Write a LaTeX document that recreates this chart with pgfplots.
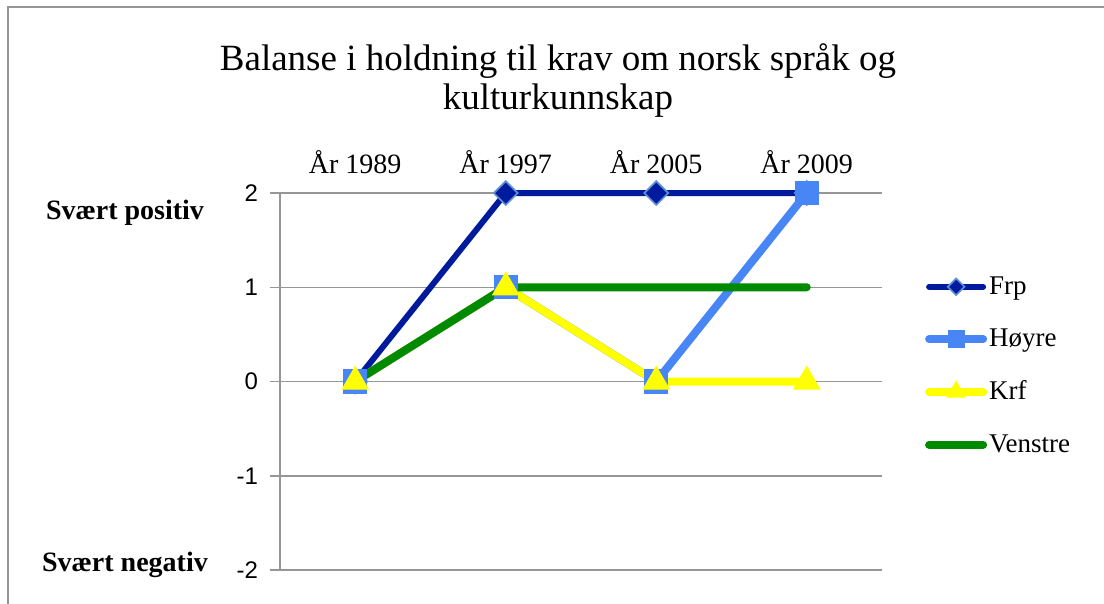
\documentclass[border=0pt]{standalone}
\usepackage{fontspec}
\setmainfont{Liberation Serif}
\newfontfamily\sansf{Liberation Sans}
\usepackage{pgfplots}
\pgfplotsset{compat=1.18}

\definecolor{frp}{RGB}{0,26,158}
\definecolor{hoyre}{RGB}{72,133,245}
\definecolor{krf}{RGB}{255,255,0}
\definecolor{venstre}{RGB}{0,138,0}
\definecolor{gridgray}{RGB}{150,150,150}
\definecolor{edge}{RGB}{95,145,215}

\begin{document}
\begin{tikzpicture}[x=1pt,y=1pt]
\useasboundingbox (0,0) rectangle (552,-302);
\draw[gridgray, line width=1pt] (4,-302) -- (4,-3.5) -- (552,-3.5);
\node[align=center, font=\fontsize{18.5}{19.5}\selectfont] at (279,-40.5)
  {Balanse i holdning til krav om norsk språk og\\kulturkunnskap};
\node[font=\bfseries\fontsize{14}{16}\selectfont] at (62.5,-106.5) {Svært positiv};
\node[font=\bfseries\fontsize{14}{16}\selectfont] at (62.5,-282.5) {Svært negativ};

\begin{axis}[
at={(140pt,-285pt)}, anchor=south west,
scale only axis, width=301pt, height=188.5pt,
xmin=-0.5, xmax=3.5, ymin=-2, ymax=2,
xtick={0,1,2,3},
xticklabels={År 1989,År 1997,År 2005,År 2009},
xticklabel pos=upper,
xtick style={draw=none},
xticklabel style={font=\fontsize{14}{16}\selectfont, yshift=1pt},
ytick={-2,-1,0,1,2},
yticklabels={-2,-1,0,1,2},
ytick pos=left,
yticklabel style={font=\sansf\fontsize{12}{14}\selectfont, xshift=-2.5pt},
tick align=outside,
major tick length=5pt,
ytick style={gridgray, line width=0.75pt},
ymajorgrids,
grid style={gridgray, line width=0.75pt},
axis line style={draw=none},
clip=false,
legend cell align=left,
legend style={at={(1.071,0.785)}, anchor=north west, draw=none, fill=none,
  font=\fontsize{13.5}{15}\selectfont, row sep=13.75pt, column sep=0pt,
  inner sep=0pt, nodes={inner sep=1pt}},
legend image code/.code={%
  \draw[mark repeat=2, mark phase=2, #1, every mark/.append style={scale=0.7}]
    plot coordinates {(1.5pt,0pt) (15pt,0pt) (28.5pt,0pt)};},
]
\draw[gridgray, line width=0.75pt] (axis cs:-0.5,-2) -- (axis cs:-0.5,2);

\addplot[frp, line width=3pt, line cap=round, mark=square*, mark size=4.2pt,
  mark options={solid, rotate=45, fill=frp, draw=edge, line width=0.8pt}]
  coordinates {(0,0) (1,2) (2,2) (3,2)};
\addlegendentry{Frp}
\addplot[hoyre, line width=4pt, line cap=round, mark=square*, mark size=5.8pt,
  mark options={solid, fill=hoyre, draw=hoyre, line width=0.5pt}]
  coordinates {(0,0) (1,1) (2,0) (3,2)};
\addlegendentry{Høyre}
\addplot[krf, line width=4pt, line cap=round, mark=triangle*, mark size=7.5pt,
  mark options={solid, fill=krf, draw=krf, line width=0.5pt}]
  coordinates {(0,0) (1,1) (2,0) (3,0)};
\addlegendentry{Krf}
\addplot[venstre, line width=4pt, line cap=round]
  coordinates {(0,0) (1,1) (2,1) (3,1)};
\addlegendentry{Venstre}
\end{axis}
\end{tikzpicture}
\end{document}
